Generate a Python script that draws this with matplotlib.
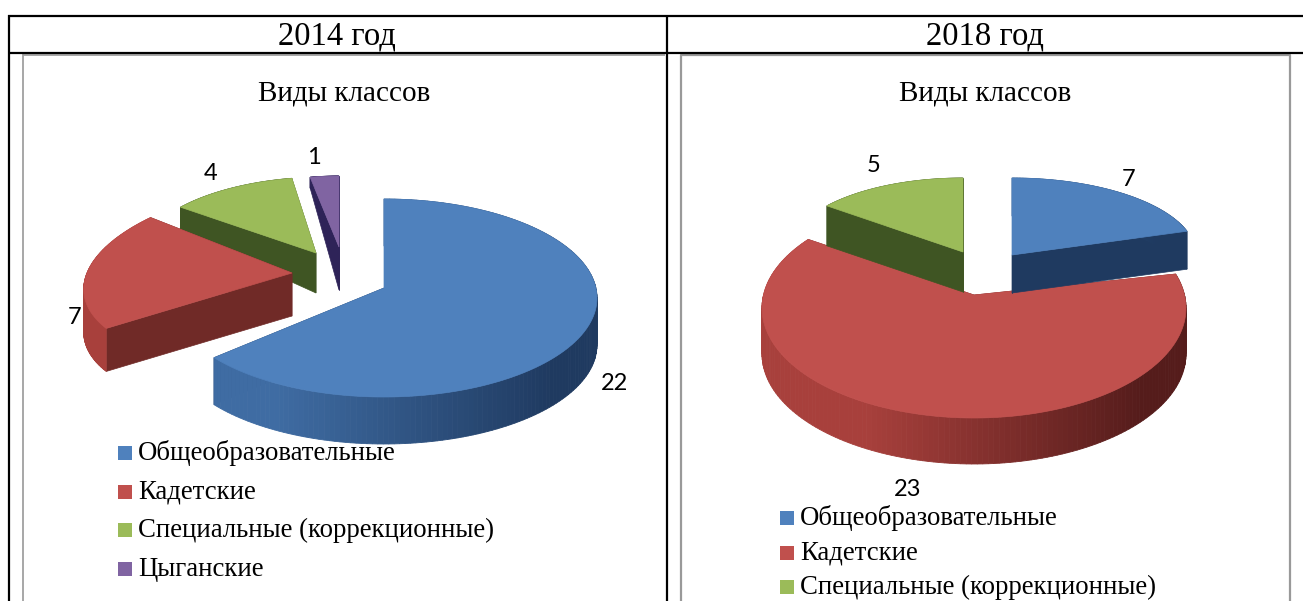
import numpy as np
import matplotlib
matplotlib.use('Agg')
import matplotlib.pyplot as plt
from matplotlib.colors import to_rgb
from matplotlib.patches import Rectangle

plt.rcParams['font.family'] = ['Liberation Serif', 'DejaVu Sans']
plt.rcParams['lines.solid_capstyle'] = 'butt'

# data
years = ['2014 год', '2018 год']
chart_title = 'Виды классов'
categories_2014 = ['Общеобразовательные', 'Кадетские', 'Специальные (коррекционные)', 'Цыганские']
values_2014 = [22, 7, 4, 1]
categories_2018 = ['Общеобразовательные', 'Кадетские', 'Специальные (коррекционные)']
values_2018 = [7, 23, 5]

top_colors = ['#4F81BD', '#C0504D', '#9BBB59', '#8064A2']
cut_colors = ['#1F3A60', '#702A27', '#3F5523', '#2E2358']
rim_light = ['#3F6CA3', '#A8403C', '#3F5523', '#2E2358']
rim_dark = ['#1F3A60', '#551C1B', '#3F5523', '#2E2358']

# per slice fake perspective: apex x, apex y, rx, ry, depth, depth slope, shear, arc centre below apex
layout_2014 = [(384, 288, 213, 99, 47, 0, 0, 10),
               (292, 273, 205, 92, 43, 0, -0.4, 0),
               (316, 253, 176, 76, 40, 0.34, -0.11, 0),
               (339, 247, 157, 71, 43, 0.46, 0, 0)]
layout_2018 = [(1012, 255, 184, 77, 38, 0, 0, 0),
               (974, 295, 212, 110, 46, 0, 0, 13),
               (963, 252, 174, 74, 40, 0, 0, 0)]
order_2014 = [3, 2, 1, 0]
order_2018 = [1, 2, 0]


def slice_angles(values):
    # clockwise from twelve o'clock, like the office chart
    total = sum(values)
    ends = np.cumsum(values) / total * 360
    starts = np.concatenate([[0], ends[:-1]])
    return 90 - starts, 90 - ends


def draw_slice(ax, start, end, geo, i):
    cx, cy, rx, ry, depth, slope, shear, arc_dy = geo
    t = np.radians(np.linspace(start, end, 160))
    dy = -ry * np.sin(t)
    xs = cx + rx * np.cos(t) + shear * dy
    ys = cy + arc_dy + dy
    d = depth + slope * dy

    # cut faces
    ax.fill([cx, xs[0], xs[0], cx], [cy, ys[0], ys[0] + d[0], cy + depth],
            color=cut_colors[i], lw=0.5)
    ax.fill([cx, xs[-1], xs[-1], cx], [cy, ys[-1], ys[-1] + d[-1], cy + depth],
            color=cut_colors[i], lw=0.5)

    # rim, darker to the right
    light = np.array(to_rgb(rim_light[i]))
    dark = np.array(to_rgb(rim_dark[i]))
    for k in range(len(t) - 1):
        f = np.clip((np.cos(t[k]) + 0.5) / 1.3, 0, 1)
        col = light + (dark - light) * f
        ax.fill([xs[k], xs[k + 1], xs[k + 1], xs[k]],
                [ys[k], ys[k + 1], ys[k + 1] + d[k + 1], ys[k] + d[k]],
                color=col, lw=0.6)

    # top
    ax.fill(np.r_[cx, xs], np.r_[cy, ys], color=top_colors[i], lw=0.5)


def draw_pie(ax, values, layout, order):
    starts, ends = slice_angles(values)
    for i in order:
        draw_slice(ax, starts[i], ends[i], layout[i], i)


def draw_legend(ax, labels, x, ys):
    for i, (lab, y) in enumerate(zip(labels, ys)):
        ax.add_patch(Rectangle((x, y - 7), 14, 14, color=top_colors[i], lw=0, zorder=5))
        ax.text(x + 20, y, lab, fontsize=19.3, va='center', ha='left', zorder=6)


fig = plt.figure(figsize=(13.03, 6.01), dpi=100)
ax = fig.add_axes([0, 0, 1, 1])
ax.set_xlim(0, 1303)
ax.set_ylim(601, 0)
ax.axis('off')

# chart frames
ax.plot([23, 23], [54, 601], color='#A0A0A0', lw=1.3)
ax.plot([23, 665], [54.5, 54.5], color='#A0A0A0', lw=1.3)
ax.plot([680.5, 680.5, 1289.5, 1289.5], [601, 54.5, 54.5, 601], color='#999999', lw=1.6)

# table grid
ax.plot([8.5, 8.5], [15, 601], color='k', lw=1.6)
ax.plot([667, 667], [15, 601], color='k', lw=1.6)
ax.plot([8, 1303], [15.5, 15.5], color='k', lw=1.6)
ax.plot([8, 1303], [53, 53], color='k', lw=1.6)

ax.text(337, 36, years[0], fontsize=23.5, ha='center', va='center')
ax.text(985, 36, years[1], fontsize=23.5, ha='center', va='center')
ax.text(344, 94, chart_title, fontsize=21, ha='center', va='center')
ax.text(985, 94, chart_title, fontsize=21, ha='center', va='center')

draw_pie(ax, values_2014, layout_2014, order_2014)
draw_pie(ax, values_2018, layout_2018, order_2018)

# data labels
label_pos_2014 = [(614, 384), (75, 318), (211, 174), (314, 157)]
label_pos_2018 = [(1129, 179), (908, 490), (874, 166)]
for v, (x, y) in zip(values_2014, label_pos_2014):
    ax.text(x, y, str(v), fontfamily='Lato', fontsize=17, ha='center', va='center')
for v, (x, y) in zip(values_2018, label_pos_2018):
    ax.text(x, y, str(v), fontfamily='Lato', fontsize=17, ha='center', va='center')

draw_legend(ax, categories_2014, 118, [453, 492, 530, 569])
draw_legend(ax, categories_2018, 780, [518, 553, 587])

fig.savefig('out.png', dpi=100)
